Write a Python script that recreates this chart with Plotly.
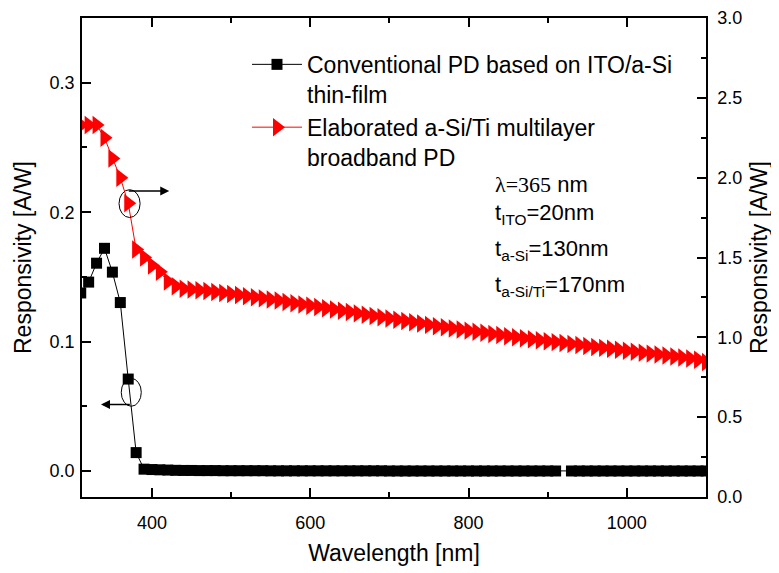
import plotly.graph_objects as go

# ---------------- data ----------------
# Conventional PD (left axis, A/W)
wl_conv = [310, 320, 330, 340, 350, 360, 370, 380,
           390, 400, 410, 420, 430, 440, 450, 460, 470, 480, 490,
           500, 510, 520, 530, 540, 550, 560, 570, 580, 590,
           600, 610, 620, 630, 640, 650, 660, 670, 680, 690,
           700, 710, 720, 730, 740, 750, 760, 770, 780, 790,
           800, 810, 820, 830, 840, 850, 860, 870, 880, 890,
           900, 910, 930, 940, 950, 960, 970, 980, 990,
           1000, 1010, 1020, 1030, 1040, 1050, 1060, 1070, 1080, 1090, 1100]
resp_conv = [0.1376, 0.1460, 0.1606, 0.1721, 0.1537, 0.1302, 0.0711, 0.0143,
             0.0015, 0.0012, 0.0010, 0.0008, 0.0006, 0.0005, 0.0005, 0.0004, 0.0004, 0.0004, 0.0003,
             0.0003, 0.0003, 0.0003, 0.0003, 0.0003, 0.0002, 0.0002, 0.0002, 0.0002, 0.0002,
             0.0002, 0.0002, 0.0002, 0.0002, 0.0002, 0.0002, 0.0002, 0.0002, 0.0002, 0.0002,
             0.0001, 0.0001, 0.0001, 0.0001, 0.0001, 0.0001, 0.0001, 0.0001, 0.0001, 0.0001,
             0.0001, 0.0001, 0.0001, 0.0001, 0.0001, 0.0001, 0.0001, 0.0001, 0.0001, 0.0001,
             0.0001, 0.0001, 0.0001, 0.0001, 0.0001, 0.0001, 0.0001, 0.0001, 0.0001,
             0.0001, 0.0001, 0.0001, 0.0001, 0.0001, 0.0001, 0.0001, 0.0001, 0.0001, 0.0001, 0.0001]

# Elaborated a-Si/Ti multilayer PD (right axis, A/W)
wl_ml = [310, 320, 330, 340, 350, 360, 370, 380, 390,
         400, 410, 420, 430, 440, 450, 460, 470, 480, 490,
         500, 510, 520, 530, 540, 550, 560, 570, 580, 590,
         600, 610, 620, 630, 640, 650, 660, 670, 680, 690,
         700, 710, 720, 730, 740, 750, 760, 770, 780, 790,
         800, 810, 820, 830, 840, 850, 860, 870, 880, 890,
         900, 910, 920, 930, 940, 950, 960, 970, 980, 990,
         1000, 1010, 1020, 1030, 1040, 1050, 1060, 1070, 1080, 1090, 1100]
resp_ml = [2.33, 2.33, 2.33, 2.25, 2.12, 2.00, 1.84, 1.55, 1.50,
           1.45, 1.41, 1.35, 1.32, 1.305, 1.300, 1.295, 1.290, 1.284, 1.278,
           1.272, 1.265, 1.258, 1.251, 1.244, 1.237, 1.230, 1.222, 1.214, 1.206,
           1.198, 1.190, 1.182, 1.174, 1.166, 1.158, 1.150, 1.142, 1.134, 1.126,
           1.118, 1.110, 1.102, 1.094, 1.086, 1.078, 1.070, 1.063, 1.056, 1.049,
           1.042, 1.035, 1.028, 1.021, 1.014, 1.007, 1.000, 0.994, 0.988, 0.982,
           0.976, 0.970, 0.964, 0.958, 0.952, 0.946, 0.940, 0.934, 0.928, 0.922,
           0.916, 0.910, 0.904, 0.898, 0.892, 0.886, 0.880, 0.874, 0.868, 0.860, 0.845]

name_conv = "Conventional PD based on ITO/a-Si<br>thin-film"
name_ml = "Elaborated a-Si/Ti multilayer<br>broadband PD"

FONT = "Liberation Sans, Arial, sans-serif"

fig = go.Figure()
fig.add_trace(go.Scatter(
    x=wl_conv, y=resp_conv, name=name_conv, mode="lines+markers",
    line=dict(color="black", width=1),
    marker=dict(symbol="square", size=11, color="black"),
    yaxis="y"))
fig.add_trace(go.Scatter(
    x=wl_ml, y=resp_ml, name=name_ml, mode="lines+markers",
    line=dict(color="#ff0000", width=1),
    marker=dict(symbol="triangle-right", size=16, color="#ff0000"),
    yaxis="y2"))

axis_common = dict(
    showline=True, linecolor="black", linewidth=1.5,
    ticks="inside", ticklen=9, tickwidth=1.5, tickcolor="black",
    showgrid=False, zeroline=False, automargin=False,
    ticklabeloverflow="allow",
    tickfont=dict(family=FONT, size=18, color="black"),
)

fig.update_layout(
    width=771, height=565,
    margin=dict(l=74, r=73, t=10, b=76),
    paper_bgcolor="white", plot_bgcolor="white",
    font=dict(family=FONT, color="black"),
    xaxis=dict(
        range=[311.6, 1100], dtick=200, tick0=0, mirror="ticks",
        minor=dict(ticks="inside", dtick=100, ticklen=5, tickwidth=1.5, tickcolor="black"),
        ticklabelstandoff=9,
        title=dict(text="Wavelength [nm]", font=dict(family=FONT, size=23), standoff=13),
        **axis_common),
    yaxis=dict(
        range=[-0.02, 0.35], dtick=0.1, tick0=0, tickformat=".1f",
        minor=dict(ticks="inside", dtick=0.05, ticklen=5, tickwidth=1.5, tickcolor="black"),
        ticklabelstandoff=2,
        title=dict(text="Responsivity [A/W]", font=dict(family=FONT, size=23), standoff=12),
        **axis_common),
    yaxis2=dict(
        overlaying="y", side="right",
        range=[0, 3.0], dtick=0.5, tick0=0, tickformat=".1f",
        minor=dict(ticks="inside", dtick=0.25, ticklen=5, tickwidth=1.5, tickcolor="black"),
        ticklabelstandoff=6,
        title=dict(text="Responsivity [A/W]", font=dict(family=FONT, size=23), standoff=10),
        **axis_common),
    legend=dict(
        x=0.2644, y=0.948, xanchor="left", yanchor="top",
        bgcolor="rgba(0,0,0,0)", borderwidth=0,
        font=dict(family=FONT, size=23, color="black"),
        valign="top", itemwidth=50, tracegroupgap=4),
    showlegend=True,
)

# ellipses marking which curve belongs to which axis
fig.add_shape(type="circle", xref="x", yref="y", x0=358.4, x1=385.0, y0=0.1959, y1=0.2174,
              line=dict(color="black", width=1))
fig.add_shape(type="circle", xref="x", yref="y", x0=361.2, x1=386.5, y0=0.0501, y1=0.0716,
              line=dict(color="black", width=1))

# arrows
fig.add_annotation(x=421.8, y=0.2164, ax=368.8, ay=0.2164, xref="x", yref="y",
                   axref="x", ayref="y", text="", showarrow=True,
                   arrowhead=2, arrowsize=1.2, arrowwidth=1.5, arrowcolor="black")
fig.add_annotation(x=335.6, y=0.0514, ax=373.9, ay=0.0514, xref="x", yref="y",
                   axref="x", ayref="y", text="", showarrow=True,
                   arrowhead=2, arrowsize=1.2, arrowwidth=1.5, arrowcolor="black")

# parameter text block
TXT = dict(xref="paper", yref="paper", xanchor="left", yanchor="middle", showarrow=False,
           font=dict(family=FONT, size=22, color="black"))
fig.add_annotation(x=0.6587, y=0.6514,
                   text="<span style='font-family:Liberation Serif'>λ=365</span> nm", **TXT)
fig.add_annotation(x=0.6587, y=0.5904, text="t<sub>ITO</sub>=20nm", **TXT)
fig.add_annotation(x=0.6587, y=0.5157, text="t<sub>a-Si</sub>=130nm", **TXT)
fig.add_annotation(x=0.6587, y=0.4415, text="t<sub>a-Si/Ti</sub>=170nm", **TXT)

fig.write_html("out.html")
